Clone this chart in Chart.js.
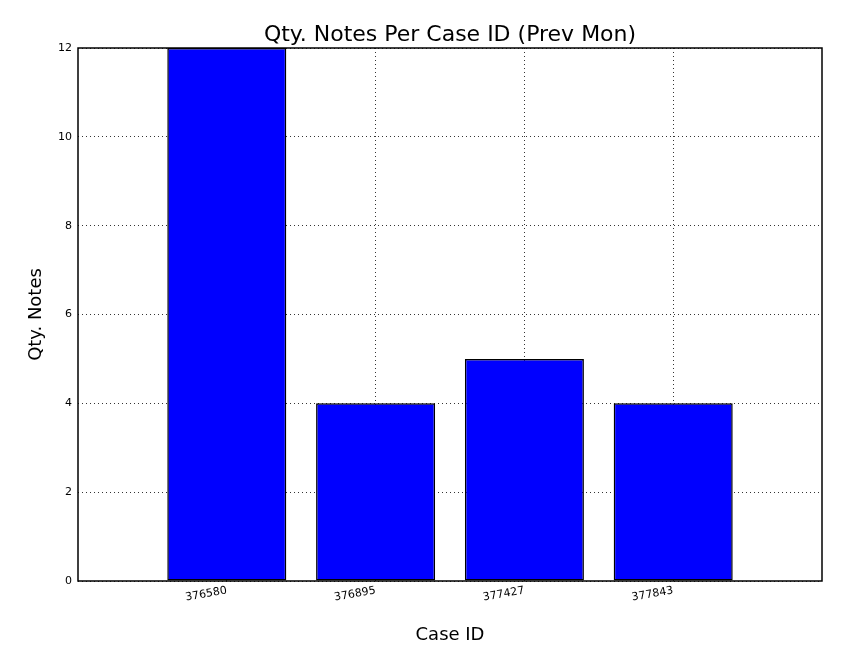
<!DOCTYPE html>
<html><head><meta charset="utf-8">
<script src="https://cdn.jsdelivr.net/npm/chart.js@4.4.0/dist/chart.umd.min.js"></script>
<style>html,body{margin:0;padding:0;background:#fff}</style>
</head><body>
<canvas id="c" width="851" height="650"></canvas>
<script>
const categories = ['376580','376895','377427','377843'];
const positions = [1,2,3,4];
const values = [12,4,5,4];
const yTicks = [0,2,4,6,8,10,12];

const frame = {
  id:'frame',
  afterDatasetsDraw(chart){
    const {ctx, chartArea:a} = chart;
    ctx.save();
    ctx.strokeStyle='#000'; ctx.lineWidth=1.5;
    ctx.strokeRect(a.left, a.top, a.right-a.left, a.bottom-a.top);
    ctx.fillStyle='#000';
    ctx.font='22px "DejaVu Sans"';
    ctx.textAlign='center'; ctx.textBaseline='alphabetic';
    ctx.fillText('Qty. Notes Per Case ID (Prev Mon)', (a.left+a.right)/2, 41);
    ctx.restore();
  }
};
const F='"DejaVu Sans"';
new Chart(document.getElementById('c'), {
  type:'bar',
  data:{datasets:[{data:positions.map((p,i)=>({x:p,y:values[i]})),
    backgroundColor:'#0000ff', borderColor:'#000', borderWidth:1.5, borderSkipped:false,
    barPercentage:0.8, categoryPercentage:1}]},
  options:{
    responsive:false, animation:false, devicePixelRatio:1,
    layout:{padding:{top:48,right:29,left:0,bottom:0}},
    plugins:{legend:{display:false},tooltip:{enabled:false}},
    scales:{
      x:{type:'linear', min:0, max:5, offset:false,
        afterBuildTicks(s){ s.ticks = positions.map(v=>({value:v})); },
        afterFit(s){ s.height = 69; },
        ticks:{color:'#000', font:{family:F,size:11}, minRotation:10, maxRotation:10,
          callback:(v)=>categories[positions.indexOf(v)] ?? ''},
        grid:{color:'#000', lineWidth:0.8, drawTicks:false, offset:false},
        border:{display:false, dash:[1,3]},
        title:{display:true, text:'Case ID', color:'#000', font:{family:F,size:18}, padding:{top:0}}
      },
      y:{min:0, max:12,
        afterBuildTicks(s){ s.ticks = yTicks.map(v=>({value:v})); },
        afterFit(s){ s.width = 78; },
        ticks:{color:'#000', font:{family:F,size:11}, padding:6},
        grid:{color:'#000', lineWidth:0.8, drawTicks:false},
        border:{display:false, dash:[1,3]},
        title:{display:true, text:'Qty. Notes', color:'#000', font:{family:F,size:18}, padding:{top:26,bottom:0}}
      }
    }
  },
  plugins:[frame]
});
</script>
</body></html>
